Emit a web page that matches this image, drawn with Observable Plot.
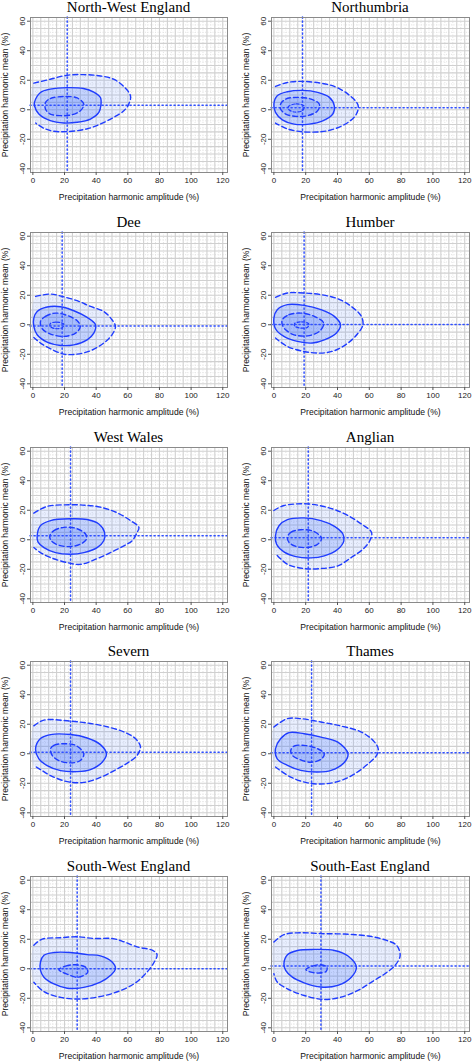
<!DOCTYPE html>
<html>
<head>
<meta charset="utf-8">
<script src="https://cdn.jsdelivr.net/npm/d3@7"></script>
<script src="https://cdn.jsdelivr.net/npm/@observablehq/plot@0.6"></script>
<style>
  body { margin: 0; background: #fff; }
  #root { position: relative; width: 472px; height: 1063px; background: #fff; overflow: hidden; }
  .ttl { position: absolute; font-family: "Liberation Serif", "DejaVu Serif", serif; font-weight: normal; font-size: 15px; color: #000; text-align: center; white-space: nowrap; line-height: 15px; z-index: 2; }
  .pnl { position: absolute; z-index: 1; }
</style>
</head>
<body>
<div id="root"></div>
<script>
// ---- data ----
const regions = ["North-West England", "Northumbria", "Dee", "Humber", "West Wales", "Anglian", "Severn", "Thames", "South-West England", "South-East England"];
// dotted cross-hair (amplitude, mean) per region
const crossAmp = [21.7, 18, 18.5, 19, 23.8, 21.6, 23.8, 23.7, 28, 29.6];
const crossMean = [3.1, 1.4, -0.9, 0.2, 2.7, 1.4, 1.1, 0.7, 0, 1.8];
const xTicks = [0, 20, 40, 60, 80, 100, 120];
const yTicks = [-40, -20, 0, 20, 40, 60];
// outer (dashed, open towards amplitude 0) contour
const outerContours = [
  [[0.6,18],[11,20.7],[21.7,23.4],[32,23.8],[42.7,22.9],[51,20.7],[57.5,15.7],[61.7,9.4],[60.6,3.8],[57.5,-0.7],[51,-5.2],[42.7,-9.7],[34,-13],[21.7,-14.8],[13.3,-14.6],[7,-12.6],[1.7,-9]],
  [[1,15.8],[8.5,18.5],[18,19.2],[29.6,18],[38,15.8],[46.6,10.6],[52.9,3.2],[51.9,-2.9],[46.6,-8.6],[38,-13],[29.6,-14.9],[18,-14.9],[8.5,-13],[1,-9]],
  [[1.7,19.2],[11.2,20.8],[18.5,19.2],[28,16.3],[36.4,12.4],[44.8,9],[50,3.4],[52.2,-1.1],[50,-6.8],[44.8,-12.4],[36.4,-17.6],[28,-19.9],[19.6,-19.9],[11.2,-16.3],[4.8,-12.4],[0.6,-8.6]],
  [[1,18.6],[8.5,21.5],[19,21.5],[29.6,20.4],[40.2,17.6],[48.7,12.4],[55,5.7],[56,0],[52.9,-5.7],[46.6,-12.4],[38,-17.6],[29.6,-19.2],[19,-18.1],[8.5,-14.7],[1,-9]],
  [[0.6,18],[9,22.6],[23.8,23.7],[34.3,23.3],[42.7,22.1],[53.3,18.3],[61.7,13],[67,8.4],[65.9,5],[62.7,-0.7],[57.5,-4.1],[49,-8.7],[40.6,-12.8],[30,-16.7],[21.7,-15.5],[11.2,-12.1],[4.8,-8.7],[0.6,-5.3]],
  [[0,19.8],[6.3,23.2],[21.2,24.3],[30.7,22.7],[38.1,20.5],[46.6,16.4],[55,10.7],[61.4,5],[60.3,-0.7],[56,-6.4],[48.7,-12],[40.2,-17.7],[29.6,-19.5],[19,-19.5],[8.5,-16.6],[1,-9.3]],
  [[0.6,18.9],[7,22.8],[23.8,22.1],[36.4,20.5],[47,18.3],[57.5,14.8],[64.8,10.3],[68,4.6],[65.9,-1.1],[60.6,-5.7],[53.3,-10.3],[42.7,-16],[32.2,-19.4],[21.7,-18.9],[11.2,-14.8],[4.8,-10.7],[0.6,-8]],
  [[0,18.1],[8.5,23.8],[16.9,23.8],[29.6,21.5],[42.3,18.8],[55,14.7],[62.4,9],[65.6,3.4],[64.6,-1.1],[59.3,-6.8],[50.8,-13.6],[42.3,-18.1],[31.7,-20.4],[21.2,-19.7],[10.6,-15.8],[1,-9]],
  [[0.6,16],[5.9,20.1],[17.5,21],[28,21.7],[38.5,20.5],[50.1,20.5],[57.5,18.3],[65.9,14.8],[75.4,12.6],[78.5,9.6],[75.4,2.3],[70.1,-4.6],[63.8,-10.3],[55.4,-14.8],[44.8,-18.3],[30.1,-20.5],[17.5,-19.4],[7,-15.5],[0.6,-9.1]],
  [[0,18.1],[6.3,23.1],[16.9,24.4],[29.6,23.8],[44.4,23.5],[59.3,22.2],[70.9,19.2],[77.2,15.8],[79.4,9],[76.2,2.3],[69.8,-3.4],[61.4,-9],[52.9,-14.7],[42.3,-19.2],[31.7,-20.8],[19,-18.1],[8.5,-13.6],[2.1,-9],[0,-3.4]]
];
// middle (solid, closed) contour
const middleContours = [
  [[1,5],[4.8,11.7],[11,14],[21.7,15],[32,14.4],[38.5,12],[42.7,8.3],[43,3.1],[41.7,-1.8],[36.4,-6.3],[28,-8.5],[19.6,-9],[11,-7.4],[3.8,-2.9],[1,2.7]],
  [[0,3.8],[2.1,9.5],[8.5,12.2],[18,13.1],[27.5,11.8],[34.9,8.4],[38,2.7],[37,-2.9],[30.7,-7.5],[22.2,-9.7],[12.7,-9.7],[5.3,-6.8],[1,-1.8]],
  [[0.6,4.5],[2.7,9],[9,12],[17.5,12.2],[25.9,9.5],[34.3,5],[39.6,0],[38.5,-5.7],[34.3,-10.2],[25.9,-13.6],[17.5,-14],[9,-11.8],[2.7,-6.8],[0.6,-1.1]],
  [[0,4.5],[2.1,10.2],[8.5,13.6],[19,13.1],[29.6,10.2],[38,5.7],[41.9,0],[39.2,-5.7],[31.7,-10.2],[24.3,-12.4],[14.8,-11.3],[6.3,-7.9],[1,-2.7]],
  [[2.7,2.7],[4.8,9.6],[11.2,13],[23.8,14.2],[34.3,13.7],[41.7,10.7],[45.3,5],[44.8,-0.7],[40.6,-5.3],[32.2,-8.7],[23.8,-9.8],[14.3,-8.7],[7,-5.3],[3.2,-1.4]],
  [[1,2.7],[3.2,9.5],[8.5,13.6],[19,14.8],[29.6,13],[38.1,9.1],[43.4,3.9],[44,-0.7],[40.2,-6.4],[31.7,-10.9],[23.3,-12.3],[13.8,-11.4],[6.3,-8.2],[1.7,-3]],
  [[1.7,3.4],[4.8,10.3],[11.2,13],[23.8,13],[34.3,10.7],[42.7,6.2],[46.5,0],[43.8,-5.7],[36.4,-10.7],[28,-12.1],[17.5,-11.4],[9,-8],[3.8,-3.4]],
  [[1,3.4],[4.2,10.2],[9.5,14.3],[19,13.6],[29.6,11.3],[40.2,7.9],[46.6,0],[44.4,-5.7],[36,-11.3],[27.5,-12.4],[16.9,-11.3],[8.5,-7.9],[2.1,-3.4]],
  [[4.8,4.6],[7,9.1],[13.3,11],[23.8,11],[34.3,9.6],[42.7,8.7],[50.1,4.6],[52.2,0],[49,-4.6],[42.7,-9.1],[32.2,-12.6],[21.7,-13.2],[13.3,-10.3],[7,-5.7],[4.8,-1.1]],
  [[6.3,3.4],[8.5,9.5],[14.8,12.4],[25.4,13.1],[38.1,12.4],[46.6,8.6],[51.9,1.1],[48.7,-5.7],[40.2,-11.3],[29.6,-12.4],[19,-9.5],[11.6,-5.7],[7.4,-1.1]]
];
// inner (dashed, closed) contour
const innerContours = [
  [[8,5],[11,7.6],[19.6,9],[28,8],[32.2,3.8],[30,-0.7],[23.8,-3.6],[17.5,-4],[11,-2.9],[8,0.4]],
  [[4.2,3.8],[7.4,7.2],[14.8,8.4],[23.3,7.2],[28.6,3.8],[27.5,-0.7],[21.2,-4],[13.8,-4.5],[7.4,-2.9],[4.2,0.5]],
  [[4.8,2.3],[8,5.7],[14.3,7.9],[21.7,6.3],[28,2.7],[30,-1.1],[27,-5.7],[19.6,-7.9],[11.2,-6.3],[5.9,-2.7]],
  [[5.3,3.4],[9.5,6.8],[16.9,7.9],[25.4,5.7],[31.3,1.1],[28.6,-4.5],[21.2,-7.5],[12.7,-6.8],[7.4,-3.4],[5.3,0]],
  [[10.7,2.7],[13.3,6.2],[19.6,8.4],[27,7.8],[33.3,3.9],[33.9,0.5],[30,-3],[23.8,-4.6],[16.4,-3.7],[11.6,-0.7]],
  [[8.5,1.6],[10.6,5],[16.9,6.8],[25.4,5.5],[30,0.9],[27.5,-3],[21.2,-5.2],[13.8,-4.5],[9.5,-1.8]],
  [[11.2,3.4],[13.3,5.7],[19.6,6.8],[27,5.7],[32.2,0],[30,-4.6],[23.8,-6.2],[16.4,-4.6],[12.2,-1.1]],
  [[10.6,2.3],[12.7,5.2],[19,5.7],[27.5,3.4],[31.7,0],[29.6,-3.8],[23.3,-5.7],[15.9,-3.8],[11.6,-1.1]],
  [[16.4,-0.5],[20.6,1.8],[27,2.7],[33.3,1.1],[34.7,-2.3],[31.2,-5],[27,-5.7],[22.7,-4.1],[18.5,-2.3]],
  [[20.1,-0.5],[24.3,1.8],[29.6,2.7],[33.4,1.1],[32.8,-1.8],[28.6,-2.9],[23.3,-2.3]]
];
// innermost small dashed contour (only where visible)
const innermostContours = [
  [],
  [[9,2],[14,4],[19,2.5],[18,-0.5],[13,-1.5],[9.5,0]],
  [[11,0.8],[15,1.8],[19.5,0.5],[18.5,-2],[14,-2.6],[11,-1.2]],
  [[13,0.8],[17.5,2],[22,0.5],[21,-1.8],[16.5,-2.2],[13,-0.8]],
  [], [], [], [], [], []
];

// ---- drawing ----
const root = document.getElementById("root");
const BLUE = "#1f3cff";
const boxTop0 = 17, rowStep = 214.8, boxH = 155;
const colLeft = [0, 236];
const mL = [30, 35], mR = [9, 3];
const mT = 2, mB = 45;
const xGridMajor = d3.range(0, 121, 5);
const xGridMinor = d3.range(2.5, 121, 5);
const yGridMajor = d3.range(-40, 61, 5);
const yGridMinor = d3.range(-37.5, 61, 5);

regions.forEach((name, i) => {
  const r = Math.floor(i / 2), c = i % 2;
  const boxTop = boxTop0 + r * rowStep;
  const H = mT + boxH + mB;
  const outer = outerContours[i].map(([x, y]) => ({x, y}));
  const middle = middleContours[i].map(([x, y]) => ({x, y}));
  const inner = innerContours[i].map(([x, y]) => ({x, y}));
  const innermost = innermostContours[i].map(([x, y]) => ({x, y}));
  const svg = Plot.plot({
    width: 236,
    height: H,
    marginTop: mT,
    marginBottom: mB,
    marginLeft: mL[c],
    marginRight: mR[c],
    style: {background: "transparent", fontFamily: "'Liberation Sans', Arial, sans-serif", overflow: "visible"},
    x: {domain: [-1.5, 123]},
    y: {domain: [-42.5, 62.5]},
    marks: [
      Plot.gridX(xGridMinor, {stroke: "#e4e4e4", strokeOpacity: 1, strokeDasharray: "1,1.5"}),
      Plot.gridY(yGridMinor, {stroke: "#e4e4e4", strokeOpacity: 1, strokeDasharray: "1,1.5"}),
      Plot.gridX(xGridMajor, {stroke: "#d0d0d0", strokeOpacity: 1, strokeWidth: 1.1}),
      Plot.gridY(yGridMajor, {stroke: "#d0d0d0", strokeOpacity: 1, strokeWidth: 1.1}),
      // density shading from the contour regions
      Plot.line(outer, {x: "x", y: "y", curve: "catmull-rom-closed", fill: "#6a92ff", fillOpacity: 0.15, stroke: "none", clip: true}),
      Plot.line(middle, {x: "x", y: "y", curve: "catmull-rom-closed", fill: "#4272ff", fillOpacity: 0.22, stroke: "none", clip: true}),
      Plot.line(inner, {x: "x", y: "y", curve: "catmull-rom-closed", fill: "#2f60ff", fillOpacity: 0.18, stroke: "none", clip: true}),
      // cross-hair
      Plot.ruleX([crossAmp[i]], {stroke: "#3050ff", strokeWidth: 1.5, strokeDasharray: "1.2,2.8", strokeLinecap: "round"}),
      Plot.ruleY([crossMean[i]], {stroke: "#3050ff", strokeWidth: 1.5, strokeDasharray: "1.2,2.8", strokeLinecap: "round"}),
      // contours
      Plot.line(outer, {x: "x", y: "y", curve: "catmull-rom", stroke: BLUE, strokeWidth: 1.4, strokeDasharray: "5,3", clip: true}),
      Plot.line(middle, {x: "x", y: "y", curve: "catmull-rom-closed", stroke: BLUE, strokeWidth: 1.4, clip: true}),
      Plot.line(inner, {x: "x", y: "y", curve: "catmull-rom-closed", stroke: BLUE, strokeWidth: 1.4, strokeDasharray: "5,3", clip: true}),
      innermost.length ? Plot.line(innermost, {x: "x", y: "y", curve: "catmull-rom-closed", stroke: BLUE, strokeWidth: 1.2, strokeDasharray: "3,2", clip: true}) : null,
      Plot.frame({stroke: "#8a8a8a", strokeWidth: 1}),
      // axes
      Plot.axisX(xTicks, {tickSize: 3, tickPadding: 2, fontSize: 8, label: null, stroke: "#555", fill: "#222"}),
      Plot.axisY(yTicks, {tickSize: 3, tickFormat: () => "", label: null, stroke: "#555"}),
      Plot.text(yTicks, {y: d => d, text: d => String(d), frameAnchor: "left", dx: -8, rotate: -90, textAnchor: "middle", fontSize: 8, fill: "#222"}),
      Plot.text(["Precipitation harmonic amplitude (%)"], {frameAnchor: "bottom", dy: 27, text: d => d, textAnchor: "middle", fontSize: 8.6, fill: "#111"}),
      Plot.text(["Precipitation harmonic mean (%)"], {frameAnchor: "left", dx: -25, rotate: -90, text: d => d, textAnchor: "middle", fontSize: 8.6, fill: "#111"})
    ].filter(Boolean)
  });
  svg.classList.add("pnl");
  svg.style.left = colLeft[c] + "px";
  svg.style.top = (boxTop - mT) + "px";
  root.appendChild(svg);

  const t = document.createElement("div");
  t.className = "ttl";
  t.textContent = name;
  const boxL = colLeft[c] + mL[c], boxR = colLeft[c] + 236 - mR[c];
  t.style.left = boxL + "px";
  t.style.width = (boxR - boxL) + "px";
  t.style.top = Math.max(0, boxTop - 17) + "px";
  root.appendChild(t);
});
</script>
</body>
</html>
